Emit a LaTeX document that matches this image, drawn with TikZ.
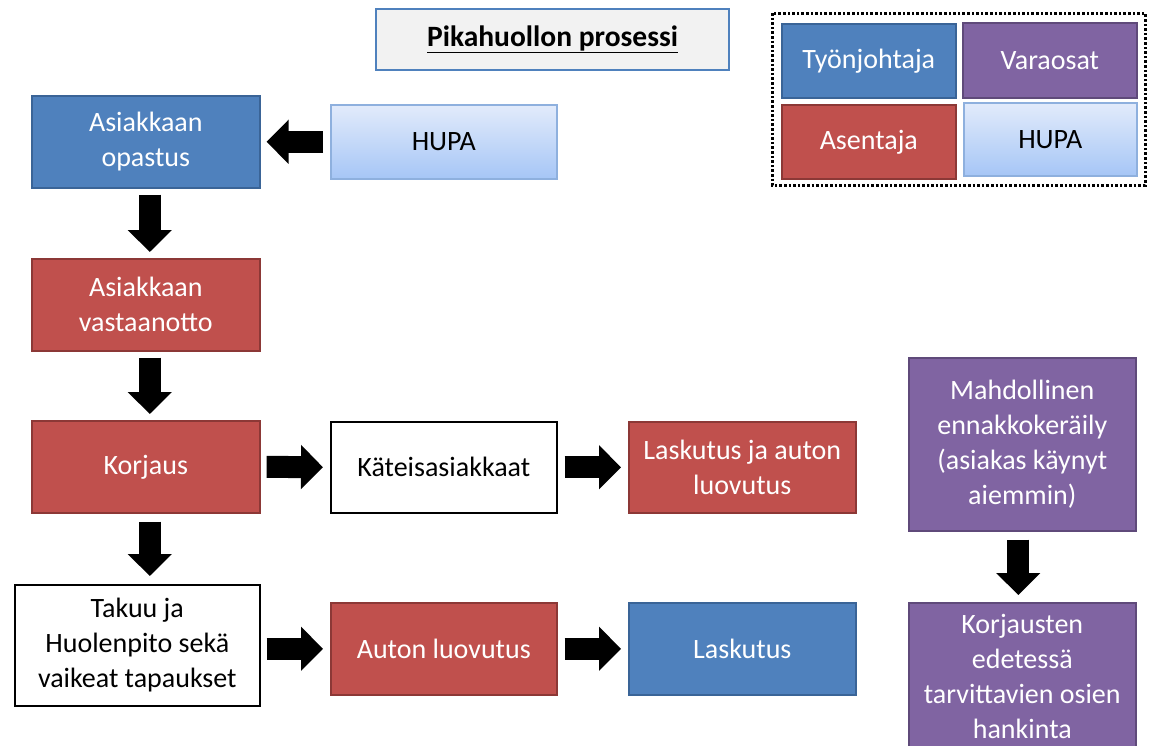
\documentclass[tikz,border=0pt]{standalone}
\usepackage{fontspec}
\setmainfont{Carlito}
\usetikzlibrary{arrows.meta,calc,shadows}

\definecolor{tjblue}{HTML}{4F81BD}
\definecolor{tjblueline}{HTML}{3A6497}
\definecolor{asred}{HTML}{C0504D}
\definecolor{asredline}{HTML}{8C3836}
\definecolor{vopurple}{HTML}{8064A2}
\definecolor{vopurpleline}{HTML}{5F4A7A}
\definecolor{hupatop}{HTML}{E2EBFB}
\definecolor{hupabot}{HTML}{A6C6F6}
\definecolor{hupaline}{HTML}{8EB0DE}
\definecolor{titlefill}{HTML}{F2F2F2}

\tikzset{
  box/.style={draw, line width=1.6pt, inner sep=0pt, anchor=north west,
    align=center, font=\fontsize{28}{35}\selectfont},
  soft/.style={drop shadow={opacity=0.18, shadow xshift=1.2pt, shadow yshift=-1.5pt}},
  tjbox/.style={box, soft, fill=tjblue, draw=tjblueline, text=white},
  asbox/.style={box, soft, fill=asred, draw=asredline, text=white},
  vobox/.style={box, soft, fill=vopurple, draw=vopurpleline, text=white},
  hupabox/.style={box, soft, top color=hupatop, bottom color=hupabot, draw=hupaline, text=black},
  plainbox/.style={box, fill=white, draw=black, text=black},
  blockarrow/.style={draw=black, line width=22pt,
    -{Triangle[length=22pt, width=43pt]}},
}

\begin{document}
\begin{tikzpicture}[x=1pt, y=-1pt]
\useasboundingbox (0,0) rectangle (1149,745);
\fill[white] (0,0) rectangle (1149,745);
\begin{scope}
\clip (0,0) rectangle (1149,745);

% title
\node[box, fill=titlefill, draw=tjblue, line width=2pt,
  minimum width=353pt, minimum height=61pt,
  font=\fontsize{29.5}{35}\selectfont\bfseries] (title) at (375,8)
  {\underline{Pikahuollon prosessi}};

% legend
\draw[line width=3pt, dash pattern=on 2.6pt off 2pt] (772,13) rectangle (1145,185);
\node[tjbox, minimum width=174pt, minimum height=74pt] (legtj) at (781,23) {Työnjohtaja};
\node[vobox, minimum width=174pt, minimum height=75pt] (legvo) at (962,22) {Varaosat};
\node[asbox, minimum width=174pt, minimum height=74pt] (legas) at (781,104) {Asentaja};
\node[hupabox, minimum width=173pt, minimum height=73pt] (leghupa) at (963,102) {HUPA};

% main flow
\node[tjbox, minimum width=228pt, minimum height=92pt] (opastus) at (31,95) {Asiakkaan\\opastus};
\node[hupabox, minimum width=226pt, minimum height=74pt] (hupa) at (330,104) {HUPA};
\node[asbox, minimum width=228pt, minimum height=92pt] (vastaanotto) at (31,258) {Asiakkaan\\vastaanotto};
\node[asbox, minimum width=228pt, minimum height=92pt] (korjaus) at (31,420) {Korjaus};
\node[plainbox, minimum width=226pt, minimum height=91pt] (kateis) at (330,421) {Käteisasiakkaat};
\node[asbox, minimum width=227pt, minimum height=91pt] (laskluov) at (628,421) {Laskutus ja auton\\luovutus};
\node[plainbox, minimum width=245pt, minimum height=121pt] (takuu) at (14,584) {Takuu ja\\Huolenpito sekä\\vaikeat tapaukset};
\node[asbox, minimum width=226pt, minimum height=92pt] (auton) at (330,602) {Auton luovutus};
\node[tjbox, minimum width=227pt, minimum height=92pt] (lasku) at (628,602) {Laskutus};

% parts side
\node[vobox, minimum width=227pt, minimum height=173pt] (mahd) at (908,357)
  {Mahdollinen\\ennakkokeräily\\(asiakas käynyt\\aiemmin)};
\node[vobox, minimum width=227pt, minimum height=147pt] (hankinta) at (908,602)
  {Korjausten\\edetessä\\tarvittavien osien\\hankinta};

% arrows
\draw[blockarrow] ($(hupa.west)+(-7,0)$) -- ($(opastus.east)+(6,0)$);
\draw[blockarrow] ($(opastus.south)+(4,6)$) -- ($(vastaanotto.north)+(4,-6)$);
\draw[blockarrow] ($(vastaanotto.south)+(4,6)$) -- ($(korjaus.north)+(4,-6)$);
\draw[blockarrow] ($(korjaus.east)+(6,0)$) -- ($(kateis.west)+(-7,0)$);
\draw[blockarrow] ($(kateis.east)+(7,0)$) -- ($(laskluov.west)+(-7,0)$);
\draw[blockarrow] ($(korjaus.south)+(4,8)$) -- ($(korjaus.south |- takuu.north)+(4,-8)$);
\draw[blockarrow] ($(takuu.east |- auton.west)+(6,0)$) -- ($(auton.west)+(-7,0)$);
\draw[blockarrow] ($(auton.east)+(7,0)$) -- ($(lasku.west)+(-7,0)$);
\draw[blockarrow] ($(mahd.south)+(-4,8)$) -- ($(hankinta.north)+(-4,-7)$);
\end{scope}
\end{tikzpicture}
\end{document}
